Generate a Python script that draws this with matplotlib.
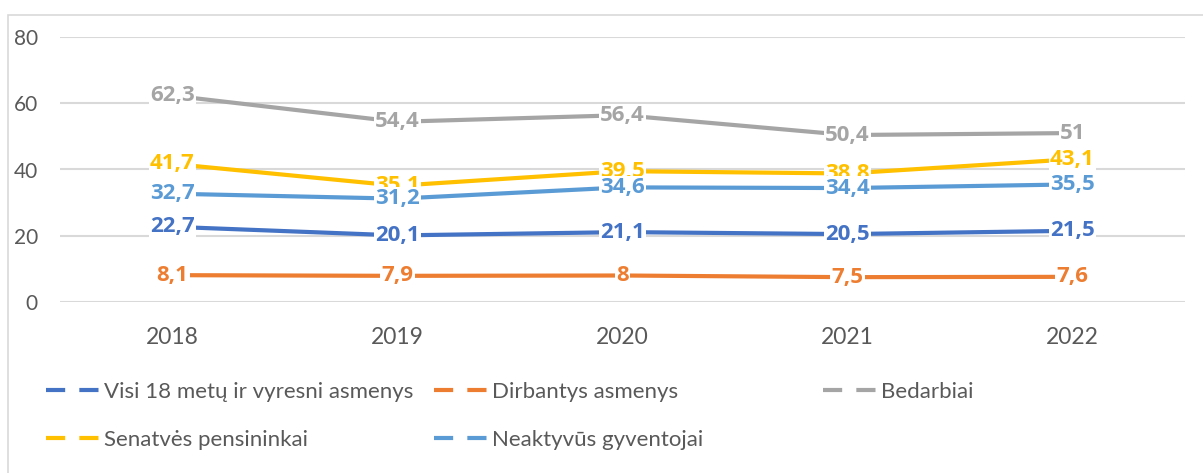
import matplotlib
matplotlib.use("Agg")
import matplotlib.pyplot as plt
from matplotlib.patches import Rectangle

plt.rcParams["font.family"] = ["Lato", "DejaVu Sans"]

# duomenys
years = ["2018", "2019", "2020", "2021", "2022"]
visi = [22.7, 20.1, 21.1, 20.5, 21.5]
dirbantys = [8.1, 7.9, 8, 7.5, 7.6]
bedarbiai = [62.3, 54.4, 56.4, 50.4, 51]
pensininkai = [41.7, 35.1, 39.5, 38.8, 43.1]
neaktyvus = [32.7, 31.2, 34.6, 34.4, 35.5]

series = [
    ("Visi 18 metų ir vyresni asmenys", visi, "#4472C4"),
    ("Dirbantys asmenys", dirbantys, "#ED7D31"),
    ("Bedarbiai", bedarbiai, "#A5A5A5"),
    ("Senatvės pensininkai", pensininkai, "#FFC000"),
    ("Neaktyvūs gyventojai", neaktyvus, "#5B9BD5"),
]

W, H = 1203, 473
fig = plt.figure(figsize=(W / 100, H / 100), dpi=100)
ax = fig.add_axes([60 / W, 1 - 302 / H, 1125 / W, 265 / H])

# rėmelis
fig.patches.append(Rectangle((8 / W, -0.1), 1.2, 1 - 15 / H + 0.1, transform=fig.transFigure,
                             fill=False, edgecolor="#D9D9D9", linewidth=1.2))

x = list(range(len(years)))
lines = []
for name, vals, col in series:
    ln, = ax.plot(x, vals, color=col, linewidth=3, solid_capstyle="butt", zorder=2)
    lines.append(ln)
    for xi, v in zip(x, vals):
        txt = f"{v:g}".replace(".", ",")
        ax.text(xi, v, txt, ha="center", va="center", fontsize=16, fontweight="bold", color=col,
                family=["Open Sans", "DejaVu Sans"], zorder=3,
                bbox=dict(boxstyle="square,pad=0.05", facecolor="white", edgecolor="none"))

ax.set_xlim(-0.5, 4.5)
ax.set_ylim(0, 80)
ax.set_yticks([0, 20, 40, 60, 80])
ax.set_xticks(x)
ax.set_xticklabels(years)
ax.yaxis.grid(True, color="#D9D9D9", linewidth=1.5, zorder=0)
ax.set_axisbelow(True)
for s in ax.spines.values():
    s.set_visible(False)
ax.tick_params(axis="both", length=0, labelcolor="#595959")
ax.tick_params(axis="y", pad=16, labelsize=15)
ax.tick_params(axis="x", pad=18, labelsize=16.5)

# legenda
pos = [(46, 392), (434, 392), (823, 392), (46, 440), (434, 440)]
for ln, (name, vals, col), (px, py) in zip(lines, series, pos):
    h, = ax.plot([], [], color=col, linewidth=3, linestyle=(0, (4.6, 3.4)))
    fig.legend([h], [name], loc="center left", bbox_to_anchor=(px / W, 1 - py / H),
               frameon=False, fontsize=16, labelcolor="#595959", handlelength=2.4,
               handletextpad=0.2, borderpad=0, borderaxespad=0)

fig.savefig("out.png", dpi=100)
